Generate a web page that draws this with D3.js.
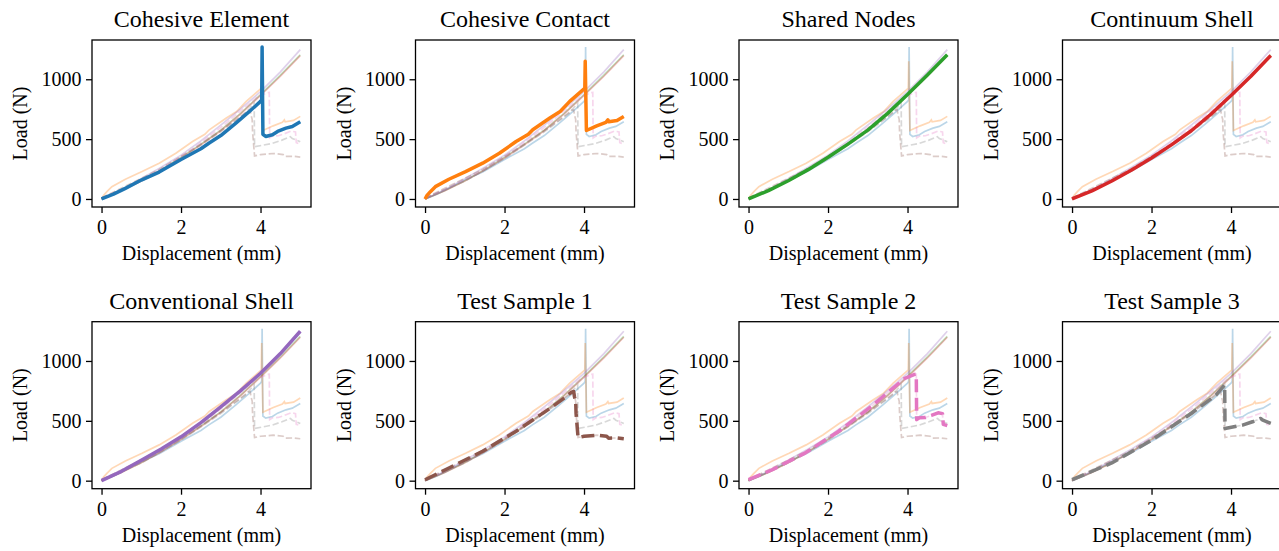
<!DOCTYPE html>
<html>
<head>
<meta charset="utf-8">
<script src="https://cdn.jsdelivr.net/npm/d3@7"></script>
<style>
body { margin: 0; background: #fff; }
svg text { font-family: "Liberation Serif", "Times New Roman", serif; fill: #000; }
</style>
</head>
<body>
<script>
// series (displacement mm, load N)
var seriesNames = ["Cohesive Element", "Cohesive Contact", "Shared Nodes", "Continuum Shell",
                   "Conventional Shell", "Test Sample 1", "Test Sample 2", "Test Sample 3"];
var seriesColors = ["#1f77b4", "#ff7f0e", "#2ca02c", "#d62728", "#9467bd", "#8c564b", "#e377c2", "#7f7f7f"];
var seriesDashed = [false, false, false, false, false, true, true, true];

var cohesiveElement = [[0,0],[0.3,40],[0.6,89],[1.0,158],[1.45,225],[2.0,330],[2.5,420],[2.7,466],[3.0,530],
    [3.38,634],[3.7,725],[4.0,815],[4.03,830],[4.04,1270],[4.06,540],[4.13,522],[4.3,536],[4.43,564],
    [4.64,592],[4.8,606],[5.0,645]];
var cohesiveContact = [[0,0],[0.05,30],[0.135,61],[0.26,103],[0.6,165],[1.02,229],[1.45,299],[1.87,382],
    [2.29,480],[2.6,540],[2.71,578],[3.14,676],[3.4,731],[3.64,815],[3.98,913],[4.02,925],[4.03,1150],
    [4.06,572],[4.32,611],[4.55,640],[4.6,660],[4.62,645],[4.83,656],[5.0,690]];
var sharedNodes = [[0,0],[0.5,70],[1,152],[1.5,245],[2,348],[2.5,458],[3,575],[3.5,715],[4,872],[4.5,1035],[5,1205]];
var continuumShell = [[0,0],[0.5,68],[1,150],[1.5,242],[2,343],[2.5,452],[3,570],[3.5,710],[4,865],[4.5,1025],[5,1198]];
var conventionalShell = [[0,0],[0.5,78],[1,170],[1.5,265],[2,366],[2.5,485],[3,617],[3.5,752],[4,897],[4.5,1062],[5,1248]];
var testSample1 = [[0,8],[0.6,106],[1.45,246],[2.29,413],[3.14,603],[3.5,690],[3.69,740],[3.74,745],[3.76,700],
    [3.79,665],[3.8,560],[3.83,440],[3.85,360],[4.0,371],[4.32,380],[4.57,371],[4.62,355],[4.83,357],[5.0,350]];
var testSample2 = [[0,8],[0.6,92],[1.43,232],[2.27,413],[3.1,623],[3.6,763],[3.93,855],[4.18,888],[4.22,890],
    [4.23,510],[4.3,525],[4.45,528],[4.6,545],[4.77,567],[4.88,560],[4.9,470],[5.0,460]];
var testSample3 = [[0,8],[1.0,148],[2.0,338],[3.0,561],[3.62,715],[3.84,800],[3.85,436],[4.29,464],[4.54,492],
    [4.75,520],[4.8,505],[5.0,478]];

var allSeries = [cohesiveElement, cohesiveContact, sharedNodes, continuumShell,
                 conventionalShell, testSample1, testSample2, testSample3];

var xTicks = [0, 2, 4];
var yTicks = [0, 500, 1000];

var w = 1279, h = 551;
var panelW = 219, panelH = 167;
var lefts = [92, 415.5, 739, 1062.5];
var tops = [40, 321.7];

var svg = d3.select("body").append("svg")
    .attr("width", w)
    .attr("height", h);

seriesNames.forEach(function(name, k) {
    var col = k % 4, row = Math.floor(k / 4);
    var g = svg.append("g")
        .attr("transform", "translate(" + lefts[col] + "," + tops[row] + ")");

    var xScale = d3.scaleLinear().domain([-0.24, 5.27]).range([0, panelW]);
    var yScale = d3.scaleLinear().domain([-67, 1328]).range([panelH, 0]);
    var line = d3.line()
        .x(function(d) { return xScale(d[0]); })
        .y(function(d) { return yScale(d[1]); });

    // all series, faded
    g.selectAll("path.faint")
        .data(allSeries)
        .enter()
        .append("path")
        .attr("class", "faint")
        .attr("d", line)
        .attr("fill", "none")
        .attr("stroke", function(d, i) { return seriesColors[i]; })
        .attr("stroke-opacity", 0.3)
        .attr("stroke-width", 1.7)
        .attr("stroke-dasharray", function(d, i) { return seriesDashed[i] ? "6.3,2.7" : null; });

    // highlighted series
    g.append("path")
        .datum(allSeries[k])
        .attr("d", line)
        .attr("fill", "none")
        .attr("stroke", seriesColors[k])
        .attr("stroke-width", 3.5)
        .attr("stroke-linejoin", "round")
        .attr("stroke-dasharray", seriesDashed[k] ? "13,5.6" : null);

    var xaxis = d3.axisBottom(xScale).tickValues(xTicks).tickFormat(d3.format("d"))
        .tickSize(6).tickPadding(7);
    var yaxis = d3.axisLeft(yScale).tickValues(yTicks).tickFormat(d3.format("d"))
        .tickSize(6).tickPadding(4.5);

    var gx = g.append("g")
        .attr("transform", "translate(0," + panelH + ")")
        .call(xaxis);
    var gy = g.append("g").call(yaxis);
    [gx, gy].forEach(function(a) {
        a.select(".domain").remove();
        a.selectAll("line").attr("stroke", "#000").attr("stroke-width", 1.3);
        a.selectAll("text").attr("font-size", "20px");
    });

    g.append("rect")
        .attr("width", panelW)
        .attr("height", panelH)
        .attr("fill", "none")
        .attr("stroke", "#000")
        .attr("stroke-width", 1.3);

    g.append("text")
        .attr("x", panelW / 2)
        .attr("y", -13)
        .attr("text-anchor", "middle")
        .attr("font-size", "24px")
        .text(name);

    g.append("text")
        .attr("x", panelW / 2)
        .attr("y", panelH + 53)
        .attr("text-anchor", "middle")
        .attr("font-size", "20px")
        .text("Displacement (mm)");

    g.append("text")
        .attr("transform", "translate(-65," + (panelH / 2) + ") rotate(-90)")
        .attr("text-anchor", "middle")
        .attr("font-size", "20px")
        .text("Load (N)");
});
</script>
</body>
</html>
